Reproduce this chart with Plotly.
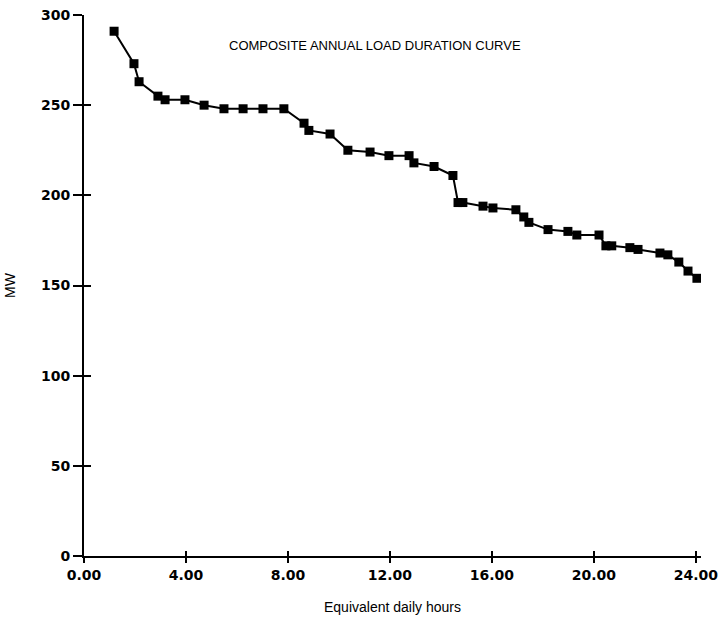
import plotly.graph_objects as go

hours = [1.18, 1.96, 2.16, 2.90, 3.18, 3.96, 4.71, 5.49, 6.24, 7.02, 7.84,
         8.63, 8.82, 9.65, 10.35, 11.22, 11.96, 12.75, 12.94, 13.73, 14.47,
         14.67, 14.86, 15.65, 16.04, 16.94, 17.25, 17.45, 18.20, 18.98, 19.33,
         20.20, 20.47, 20.70, 21.41, 21.73, 22.59, 22.90, 23.33, 23.69, 24.04]
mw = [291, 273, 263, 255, 253, 253, 250, 248, 248, 248, 248,
      240, 236, 234, 225, 224, 222, 222, 218, 216, 211,
      196, 196, 194, 193, 192, 188, 185, 181, 180, 178,
      178, 172, 172, 171, 170, 168, 167, 163, 158, 154]

x_ticks = [0, 4, 8, 12, 16, 20, 24]
y_ticks = [0, 50, 100, 150, 200, 250, 300]
title_text = "COMPOSITE ANNUAL LOAD DURATION CURVE"
x_title = "Equivalent daily hours"
y_title = "MW"

fig = go.Figure()
fig.add_trace(go.Scatter(
    x=hours, y=mw, mode="lines+markers",
    line=dict(color="black", width=2),
    marker=dict(symbol="square", size=9, color="black", line=dict(width=0)),
    showlegend=False, hoverinfo="x+y",
))
# invisible copy to carry the inner tick axes
fig.add_trace(go.Scatter(
    x=hours, y=mw, mode="markers", xaxis="x2", yaxis="y2",
    marker=dict(opacity=0), showlegend=False, hoverinfo="skip",
))

tick_font = dict(family="DejaVu Sans", size=14, color="black", weight="bold")

fig.update_layout(
    width=720, height=634,
    margin=dict(l=84, r=19, t=15, b=78),
    paper_bgcolor="white", plot_bgcolor="white",
    font=dict(family="Liberation Sans", color="black"),
    xaxis=dict(
        range=[0, 24.2], tickvals=x_ticks, tickformat=".2f", automargin=False,
        ticks="outside", ticklen=5, tickwidth=1.5, tickcolor="black",
        showline=True, linecolor="black", linewidth=2,
        showgrid=False, zeroline=False, tickfont=tick_font,
        title=dict(text=x_title, font=dict(family="Liberation Sans", size=14), standoff=20),
    ),
    yaxis=dict(
        range=[0, 300], tickvals=y_ticks, automargin=False,
        ticks="outside", ticklen=9, tickwidth=2, tickcolor="black",
        showline=True, linecolor="black", linewidth=2,
        showgrid=False, zeroline=False, tickfont=tick_font,
        title=dict(text=y_title, font=dict(family="Liberation Sans", size=14), standoff=22),
    ),
    xaxis2=dict(
        overlaying="x", matches="x", anchor="y2", side="bottom", automargin=False,
        tickvals=x_ticks, ticks="inside", ticklen=5, tickwidth=1.5, tickcolor="black",
        showticklabels=False, showline=False, showgrid=False, zeroline=False,
    ),
    yaxis2=dict(
        overlaying="y", matches="y", anchor="x2", side="left", automargin=False,
        tickvals=y_ticks, ticks="inside", ticklen=7, tickwidth=2, tickcolor="black",
        showticklabels=False, showline=False, showgrid=False, zeroline=False,
    ),
    annotations=[dict(
        text=title_text, xref="paper", yref="paper", x=0.472, y=0.944,
        xanchor="center", yanchor="middle", showarrow=False,
        font=dict(family="Liberation Sans", size=13, color="black"),
    )],
)

fig.write_html("out.html")
